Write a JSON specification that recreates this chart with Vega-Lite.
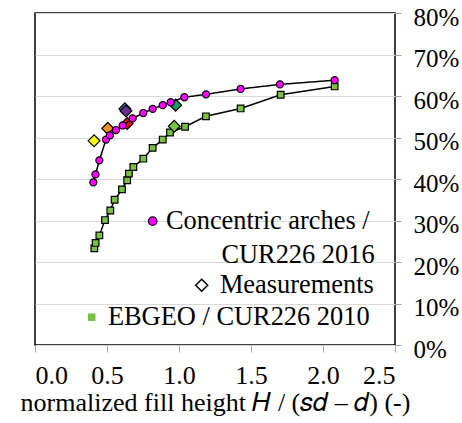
{
  "$schema": "https://vega.github.io/schema/vega-lite/v6.json",
  "autosize": {"type": "none"},
  "width": 360,
  "height": 332,
  "padding": {"left": 35, "top": 13, "right": 67, "bottom": 78},
  "background": "white",
  "config": {
    "view": {"stroke": "black", "strokeWidth": 1.5},
    "font": "Liberation Serif",
    "axis": {"labelFont": "Liberation Serif", "titleFont": "Liberation Serif", "labelColor": "black", "titleColor": "black", "domain": false, "tickColor": "#a6a6a6", "titleFontWeight": "normal"},
    "legend": {"labelFont": "Liberation Serif", "labelFontSize": 26.4, "labelColor": "black", "labelLimit": 400, "padding": 0, "orient": "none", "title": null}
  },
  "datasets": {
    "arches": [
      {"x": 0.405, "y": 0.392}, {"x": 0.42, "y": 0.411}, {"x": 0.447, "y": 0.445},
      {"x": 0.493, "y": 0.495}, {"x": 0.52, "y": 0.505}, {"x": 0.5625, "y": 0.518},
      {"x": 0.609, "y": 0.529}, {"x": 0.678, "y": 0.546}, {"x": 0.752, "y": 0.559},
      {"x": 0.817, "y": 0.569}, {"x": 0.887, "y": 0.578}, {"x": 0.942, "y": 0.585},
      {"x": 1.037, "y": 0.597}, {"x": 1.1875, "y": 0.604}, {"x": 1.428, "y": 0.617},
      {"x": 1.701, "y": 0.628}, {"x": 2.081, "y": 0.638}
    ],
    "ebgeo": [
      {"x": 0.412, "y": 0.233}, {"x": 0.421, "y": 0.246}, {"x": 0.447, "y": 0.264},
      {"x": 0.486, "y": 0.301}, {"x": 0.523, "y": 0.324}, {"x": 0.553, "y": 0.350},
      {"x": 0.604, "y": 0.375}, {"x": 0.640, "y": 0.397}, {"x": 0.652, "y": 0.413},
      {"x": 0.683, "y": 0.429}, {"x": 0.752, "y": 0.449}, {"x": 0.817, "y": 0.475},
      {"x": 0.887, "y": 0.495}, {"x": 0.9375, "y": 0.512}, {"x": 1.042, "y": 0.526},
      {"x": 1.187, "y": 0.551}, {"x": 1.428, "y": 0.570}, {"x": 1.706, "y": 0.603},
      {"x": 2.081, "y": 0.623}
    ],
    "meas": [
      {"test": "M1", "x": 0.41, "y": 0.492},
      {"test": "M2", "x": 0.505, "y": 0.522},
      {"test": "M3", "x": 0.624, "y": 0.569},
      {"test": "M4", "x": 0.632, "y": 0.564},
      {"test": "M5", "x": 0.64, "y": 0.534},
      {"test": "M6", "x": 0.977, "y": 0.578},
      {"test": "M7", "x": 0.967, "y": 0.527}
    ]
  },
  "encoding": {
    "x": {"field": "x", "type": "quantitative", "scale": {"domain": [0, 2.5], "nice": false},
      "axis": {"values": [0, 0.5, 1, 1.5, 2, 2.5], "format": ".1f", "grid": false, "labelFontSize": 26, "tickSize": 7, "labelPadding": 10,
        "title": "normalized fill height 𝐻 / (𝑠𝑑 – 𝑑) (-)", "titleFontSize": 26, "titlePadding": 1}},
    "y": {"field": "y", "type": "quantitative", "scale": {"domain": [0, 0.8], "nice": false},
      "axis": {"orient": "right", "values": [0, 0.1, 0.2, 0.3, 0.4, 0.5, 0.6, 0.7, 0.8], "format": ".0%", "grid": true, "gridColor": "#d9d9d9", "gridWidth": 1,
        "labelFontSize": 25, "tickSize": 6, "labelPadding": 12, "labelOffset": 4, "title": null}}
  },
  "layer": [
    {"data": {"name": "ebgeo"}, "mark": {"type": "line", "color": "black", "strokeWidth": 1.5}},
    {"data": {"name": "ebgeo"}, "transform": [{"calculate": "'EBGEO / CUR226 2010'", "as": "series"}],
      "mark": {"type": "point", "filled": true, "fill": "#7ac143", "stroke": "black", "strokeWidth": 1.2, "size": 44, "opacity": 1},
      "encoding": {"shape": {"field": "series", "type": "nominal", "scale": {"range": ["square"]},
        "legend": {"orient": "none", "legendX": 43.5, "legendY": 291, "symbolSize": 56, "labelOffset": 3, "symbolStrokeWidth": 1.5, "symbolStrokeColor": "black", "symbolFillColor": "#7ac143",
          "encode": {"symbols": {"update": {"stroke": {"value": "black"}, "strokeWidth": {"value": 1.5}, "fill": {"value": "#7ac143"}}}}}}}},
    {"data": {"name": "meas"}, "transform": [{"calculate": "'Measurements'", "as": "series"}],
      "mark": {"type": "point", "shape": "diamond", "filled": true, "stroke": "black", "strokeWidth": 1.2, "size": 140},
      "encoding": {
        "fill": {"field": "test", "type": "nominal", "legend": null, "scale": {"domain": ["M1","M2","M3","M4","M5","M6","M7"], "range": ["#ffff00","#f0901e","#2f6eba","#6b2f8f","#ff0000","#0e9e63","#7ac143"]}},
        "opacity": {"field": "series", "type": "nominal", "scale": {"range": [1]},
          "legend": {"orient": "none", "legendX": 153.5, "legendY": 259, "symbolType": "diamond", "symbolFillColor": "white", "symbolStrokeColor": "black", "symbolStrokeWidth": 1.5, "symbolSize": 144, "labelOffset": 5}}}},
    {"data": {"name": "arches"}, "transform": [{"calculate": "'CUR226 2016'", "as": "series2"}],
      "mark": {"type": "line", "color": "black", "strokeWidth": 1.5},
      "encoding": {"strokeDash": {"field": "series2", "type": "nominal", "scale": {"range": [[1, 0]]},
        "legend": {"orient": "none", "legendX": 160, "legendY": 228.5, "symbolSize": 1, "symbolOpacity": 0, "labelOffset": 0, "symbolType": "circle"}}}},
    {"data": {"name": "arches"}, "transform": [{"calculate": "'Concentric arches /'", "as": "series"}],
      "mark": {"type": "point", "shape": "circle", "filled": true, "stroke": "black", "strokeWidth": 1.2, "size": 50, "opacity": 1},
      "encoding": {
        "fill": {"field": "series", "type": "nominal", "scale": {"range": ["#ff00ff"]},
          "legend": {"orient": "none", "legendX": 104.5, "legendY": 195, "symbolType": "circle", "symbolStrokeColor": "black", "symbolStrokeWidth": 1.2, "symbolSize": 72, "labelOffset": 0}}}}
  ],
  "resolve": {"scale": {"fill": "independent"}}
}
